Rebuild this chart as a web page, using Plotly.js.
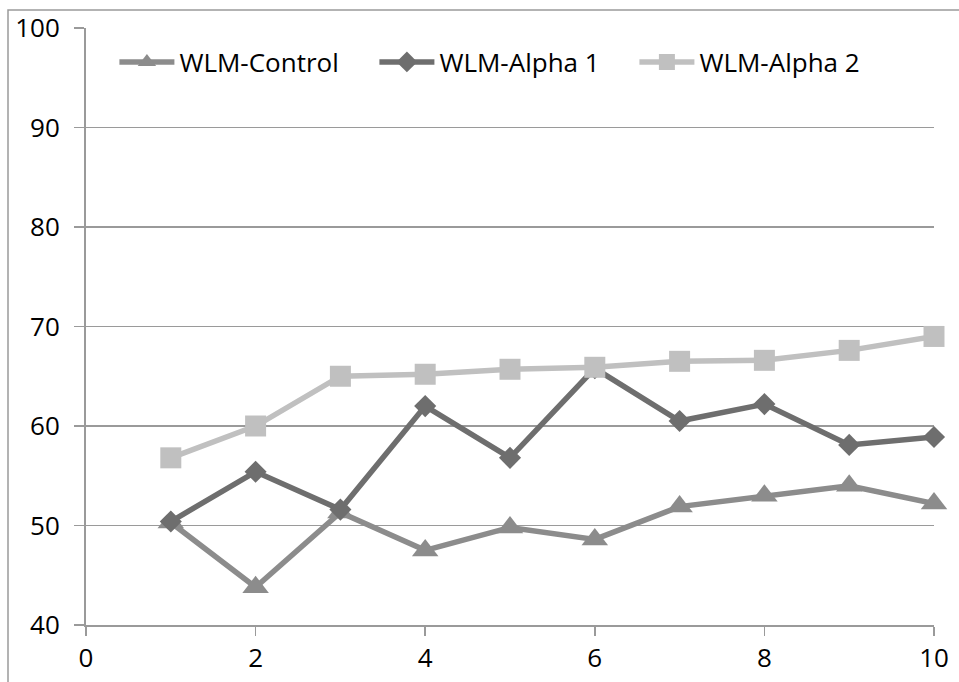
<!DOCTYPE html>
<html>
<head>
<meta charset="utf-8">
<script src="https://cdn.plot.ly/plotly-3.0.1.min.js"></script>
<style>
  html, body { margin: 0; padding: 0; background: #fff; }
  #chart { width: 959px; height: 682px; }
</style>
</head>
<body>
<div id="chart"></div>
<script>
// Trial index (1..10) shared by all three series
const trials = [1, 2, 3, 4, 5, 6, 7, 8, 9, 10];

// Scores per trial
const wlmControl = [50.3, 43.8, 51.3, 47.5, 49.8, 48.6, 51.9, 53.0, 54.0, 52.2];
const wlmAlpha1  = [50.4, 55.4, 51.6, 62.0, 56.8, 65.8, 60.5, 62.2, 58.1, 58.9];
const wlmAlpha2  = [56.8, 60.0, 65.0, 65.2, 65.7, 65.9, 66.5, 66.6, 67.6, 69.0];

const seriesNames = ['WLM-Control', 'WLM-Alpha 1', 'WLM-Alpha 2'];
const yTicks = [40, 50, 60, 70, 80, 90, 100];
const xTicks = [0, 2, 4, 6, 8, 10];

const FONT = 'Open Sans, Liberation Sans, sans-serif';
const FONT_SIZE = 26;

function lineTrace(name, y, color, symbol, size) {
  return {
    type: 'scatter',
    mode: 'lines+markers',
    name: name,
    x: trials,
    y: y,
    line: { color: color, width: 5.5 },
    marker: { color: color, symbol: symbol, size: size, line: { width: 0 } },
    cliponaxis: false
  };
}

const data = [
  lineTrace(seriesNames[0], wlmControl, '#8c8c8c', 'triangle-up', 23),
  lineTrace(seriesNames[1], wlmAlpha1, '#6e6e6e', 'diamond', 17),
  lineTrace(seriesNames[2], wlmAlpha2, '#c0c0c0', 'square', 21)
];

const layout = {
  width: 959,
  height: 682,
  margin: { l: 86, r: 25, t: 28, b: 57 },
  paper_bgcolor: '#ffffff',
  plot_bgcolor: '#ffffff',
  font: { family: FONT, size: FONT_SIZE, color: '#000000' },
  showlegend: true,
  legend: {
    orientation: 'h',
    x: 0.0335,
    xanchor: 'left',
    y: 0.943,
    yanchor: 'middle',
    bgcolor: 'rgba(0,0,0,0)',
    font: { family: FONT, size: FONT_SIZE, color: '#000000' },
    entrywidth: 190,
    itemwidth: 55,
    traceorder: 'normal'
  },
  xaxis: {
    range: [0, 10],
    tickvals: xTicks,
    ticktext: xTicks.map(String),
    showgrid: false,
    zeroline: false,
    showline: true,
    linecolor: '#9a9a9a',
    linewidth: 2,
    ticks: 'outside',
    ticklen: 9,
    tickwidth: 1.5,
    tickcolor: '#9a9a9a',
    ticklabelstandoff: 0,
    tickfont: { family: FONT, size: FONT_SIZE, color: '#000000' }
  },
  yaxis: {
    range: [40, 100],
    tickvals: yTicks,
    ticktext: yTicks.map(String),
    showgrid: true,
    gridcolor: '#9a9a9a',
    gridwidth: 1.5,
    zeroline: false,
    showline: true,
    linecolor: '#9a9a9a',
    linewidth: 2,
    ticks: 'outside',
    ticklen: 10,
    tickwidth: 1.5,
    tickcolor: '#9a9a9a',
    ticklabelstandoff: 9,
    tickfont: { family: FONT, size: FONT_SIZE, color: '#000000' }
  },
  shapes: [
    {
      // outer chart frame
      type: 'rect',
      xref: 'paper', yref: 'paper',
      x0: (8 - 86) / 848, x1: (965 - 86) / 848,
      y0: (625 - 690) / 597, y1: (625 - 10) / 597,
      line: { color: '#9a9a9a', width: 1.5 },
      fillcolor: 'rgba(0,0,0,0)',
      layer: 'below'
    }
  ]
};

Plotly.newPlot('chart', data, layout, { displayModeBar: false, staticPlot: true });
</script>
</body>
</html>
